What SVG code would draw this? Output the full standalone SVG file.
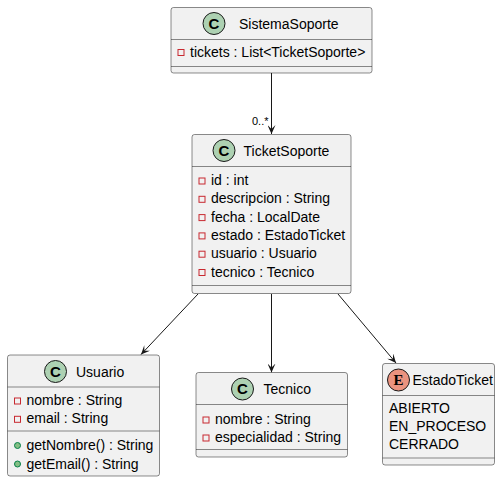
<svg xmlns="http://www.w3.org/2000/svg" width="501" height="482" viewBox="0 0 501 482">
<style>
.box{fill:#F1F1F1;stroke:#181818;stroke-width:0.5}
.sep{stroke:#181818;stroke-width:0.5}
.t{font-family:"Liberation Sans",Arial,sans-serif;font-size:14px;fill:#000}
.cc{fill:#ADD1B2;stroke:#181818;stroke-width:1}
.ec{fill:#EB937F;stroke:#181818;stroke-width:1}
.cl{font-family:"Liberation Sans",Arial,sans-serif;font-size:15px;font-weight:bold;fill:#000;text-anchor:middle}
.el{font-family:"Liberation Serif","Times New Roman",serif;font-size:15px;font-weight:bold;fill:#000;text-anchor:middle}
.priv{fill:none;stroke:#C82930;stroke-width:1}
.pub{fill:#84BE84;stroke:#038048;stroke-width:1}
.lnk{stroke:#181818;stroke-width:1;fill:none;marker-end:url(#arr)}
.lbl{font-family:"Liberation Sans",Arial,sans-serif;font-size:11px;fill:#000}
</style>
<defs>
<marker id="arr" viewBox="0 0 10 8" refX="9" refY="4" markerWidth="10" markerHeight="8" markerUnits="userSpaceOnUse" orient="auto">
<path d="M0,0 L9,4 L0,8 L4,4 Z" fill="#181818"/>
</marker>
</defs>
<g id="connectors">
<line class="lnk" x1="271.5" y1="73" x2="271.5" y2="134"/>
<text class="lbl" x="252" y="125">0..*</text>
<line class="lnk" x1="198" y1="294" x2="141" y2="354.5"/>
<line class="lnk" x1="271.5" y1="294" x2="271.5" y2="372.5"/>
<line class="lnk" x1="338" y1="294" x2="396" y2="363"/>
</g>
<g id="SistemaSoporte">
<rect class="box" x="171" y="7.5" width="201" height="65.5" rx="2.5"/>
<circle class="cc" cx="214" cy="23.5" r="11"/>
<text class="cl" x="214" y="28.8">C</text>
<text class="t" x="239" y="28.8">SistemaSoporte</text>
<line class="sep" x1="171" y1="39.5" x2="372" y2="39.5"/>
<rect class="priv" x="178" y="49.5" width="6" height="6"/>
<text class="t" x="190" y="57">tickets : List&lt;TicketSoporte&gt;</text>
<line class="sep" x1="171" y1="66.5" x2="372" y2="66.5"/>
</g>
<g id="TicketSoporte">
<rect class="box" x="192" y="134.5" width="159" height="159" rx="2.5"/>
<circle class="cc" cx="224" cy="150.5" r="11"/>
<text class="cl" x="224" y="155.8">C</text>
<text class="t" x="243.5" y="155.8">TicketSoporte</text>
<line class="sep" x1="192" y1="166.5" x2="351" y2="166.5"/>
<rect class="priv" x="199" y="178" width="6" height="6"/>
<text class="t" x="211" y="185">id : int</text>
<rect class="priv" x="199" y="196.3" width="6" height="6"/>
<text class="t" x="211" y="203.3">descripcion : String</text>
<rect class="priv" x="199" y="214.6" width="6" height="6"/>
<text class="t" x="211" y="221.6">fecha : LocalDate</text>
<rect class="priv" x="199" y="232.9" width="6" height="6"/>
<text class="t" x="211" y="239.9">estado : EstadoTicket</text>
<rect class="priv" x="199" y="251.2" width="6" height="6"/>
<text class="t" x="211" y="258.2">usuario : Usuario</text>
<rect class="priv" x="199" y="269.5" width="6" height="6"/>
<text class="t" x="211" y="276.5">tecnico : Tecnico</text>
<line class="sep" x1="192" y1="285.5" x2="351" y2="285.5"/>
</g>
<g id="Usuario">
<rect class="box" x="7.5" y="355" width="152" height="121" rx="2.5"/>
<circle class="cc" cx="55.5" cy="371.5" r="11"/>
<text class="cl" x="55.5" y="376.8">C</text>
<text class="t" x="76" y="376.8">Usuario</text>
<line class="sep" x1="7.5" y1="387" x2="159.5" y2="387"/>
<rect class="priv" x="14.5" y="398" width="6" height="6"/>
<text class="t" x="26.5" y="405">nombre : String</text>
<rect class="priv" x="14.5" y="416.3" width="6" height="6"/>
<text class="t" x="26.5" y="423.3">email : String</text>
<line class="sep" x1="7.5" y1="431" x2="159.5" y2="431"/>
<circle class="pub" cx="17.5" cy="445.5" r="3"/>
<text class="t" x="26.5" y="450">getNombre() : String</text>
<circle class="pub" cx="17.5" cy="464" r="3"/>
<text class="t" x="26.5" y="468.5">getEmail() : String</text>
</g>
<g id="Tecnico">
<rect class="box" x="196" y="372.5" width="151.5" height="84.5" rx="2.5"/>
<circle class="cc" cx="242.5" cy="389" r="11"/>
<text class="cl" x="242.5" y="394.3">C</text>
<text class="t" x="263.5" y="394.3">Tecnico</text>
<line class="sep" x1="196" y1="404.5" x2="347.5" y2="404.5"/>
<rect class="priv" x="203" y="417" width="6" height="6"/>
<text class="t" x="215" y="424">nombre : String</text>
<rect class="priv" x="203" y="435" width="6" height="6"/>
<text class="t" x="215" y="442">especialidad : String</text>
<line class="sep" x1="196" y1="449.5" x2="347.5" y2="449.5"/>
</g>
<g id="EstadoTicket">
<rect class="box" x="382.5" y="363.5" width="112" height="101.5" rx="2.5"/>
<circle class="ec" cx="398.5" cy="380" r="11"/>
<text class="el" x="398.5" y="385">E</text>
<text class="t" x="412.5" y="385.3">EstadoTicket</text>
<line class="sep" x1="382.5" y1="395.5" x2="494.5" y2="395.5"/>
<text class="t" x="389" y="412.5">ABIERTO</text>
<text class="t" x="389" y="431">EN_PROCESO</text>
<text class="t" x="389" y="449.3">CERRADO</text>
<line class="sep" x1="382.5" y1="458" x2="494.5" y2="458"/>
</g>
</svg>
